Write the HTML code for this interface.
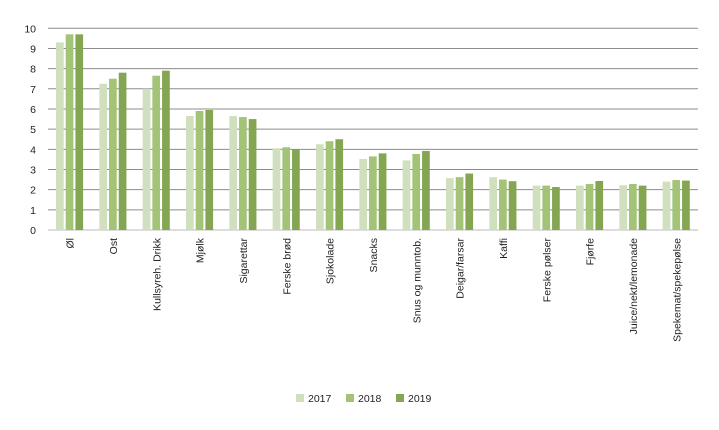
<!DOCTYPE html>
<html><head><meta charset="utf-8"><style>
body{margin:0;background:#fff;font-family:"Liberation Sans",sans-serif}
</style></head><body>
<svg id="chart" width="719" height="425" xmlns="http://www.w3.org/2000/svg" font-family="Liberation Sans, sans-serif" font-size="10.5" fill="#222"></svg>
<script>
const categories=["Øl","Ost","Kullsyreh. Drikk","Mjølk","Sigarettar","Ferske brød","Sjokolade","Snacks","Snus og munntob.","Deigar/farsar","Kaffi","Ferske pølser","Fjørfe","Juice/nekt/lemonade","Spekemat/spekepølse"];
const s2017=[9.3,7.25,7.0,5.65,5.65,4.05,4.25,3.52,3.45,2.57,2.62,2.2,2.2,2.22,2.4];
const s2018=[9.7,7.5,7.65,5.9,5.6,4.1,4.4,3.65,3.77,2.62,2.5,2.2,2.28,2.28,2.48];
const s2019=[9.7,7.8,7.9,5.95,5.5,4.0,4.5,3.8,3.92,2.8,2.42,2.13,2.43,2.2,2.45];
const seriesNames=["2017","2018","2019"];
const yTicks=[0,1,2,3,4,5,6,7,8,9,10];
const colors=["#d0dfbe","#a3c377","#84a652"];
const svg=document.getElementById('chart');const NS="http://www.w3.org/2000/svg";
const x0=48,x1=698,y0=230,yTop=28.3;
const y=v=>y0-(v/10)*(y0-yTop);
const bw=(x1-x0)/categories.length;
function mk(t,a,p){const e=document.createElementNS(NS,t);for(const k in a)e.setAttribute(k,a[k]);(p||svg).appendChild(e);return e;}
yTicks.forEach(t=>{
 const l=mk('line',{x1:x0,x2:x1,y1:y(t),y2:y(t),stroke:t===0?'#bbb':'#8c8c8c','stroke-width':1});
 
 
 const tx=mk('text',{x:36,y:y(t)+4,'text-anchor':'end'});tx.textContent=t;
 
 
});
const series=[s2017,s2018,s2019];
categories.forEach((c,i)=>{
 const gx=x0+i*bw+8;
 series.forEach((s,j)=>{
  const r=mk('rect',{x:gx+j*9.7,y:y(s[i]),width:7.7,height:y0-y(s[i]),fill:colors[j]});
  
  
 });
 const cx=x0+i*bw+bw/2+4;
 const t=mk('text',{x:0,y:0,transform:`translate(${cx},238) rotate(-90)`,'text-anchor':'end'});
 t.textContent=c;
 
 
});
const lg=mk('g',{});


seriesNames.forEach((n,j)=>{
 const lx=296+j*50;
 const r=mk('rect',{x:lx,y:394,width:8,height:8,fill:colors[j]},lg);
 
 
 const t=mk('text',{x:lx+12,y:402},lg);t.textContent=n;
 
 
});
</script>
</body></html>
